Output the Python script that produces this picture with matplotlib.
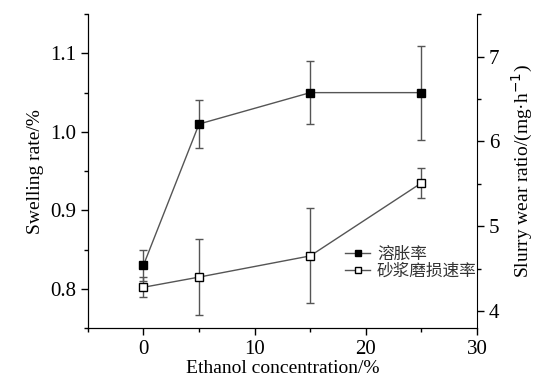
import matplotlib
matplotlib.use("Agg")
import matplotlib.pyplot as plt
from matplotlib.ticker import MultipleLocator

plt.rcParams['font.family'] = ['Liberation Serif', 'Noto Sans CJK SC']

ethanol = [0, 5, 15, 25]  # ethanol concentration %
swelling = [0.83, 1.01, 1.05, 1.05]
swelling_err = [0.02, 0.03, 0.04, 0.06]
wear = [4.28, 4.40, 4.65, 5.51]
wear_err = [0.12, 0.45, 0.56, 0.18]
labels = ["溶胀率", "砂浆磨损速率"]

fig = plt.figure(figsize=(5.39, 3.79), dpi=100)
ax = fig.add_axes([0.163, 0.1346, 0.722, 0.828])
ax2 = ax.twinx()

h1 = ax.errorbar(ethanol, swelling, yerr=swelling_err, color="#555555", lw=1,
                 marker="s", ms=6, mfc="black", mec="black", capsize=3,
                 elinewidth=1, label=labels[0])
h2 = ax2.errorbar(ethanol, wear, yerr=wear_err, color="#555555", lw=1,
                  marker="s", ms=6, mfc="white", mec="black", capsize=3,
                  elinewidth=1, label=labels[1])

ax.set_xlim(-5, 30)
ax.set_ylim(0.75, 1.15)
ax2.set_ylim(3.8, 7.5)
ax.xaxis.set_major_locator(MultipleLocator(10))
ax.xaxis.set_minor_locator(MultipleLocator(5))
ax.yaxis.set_major_locator(MultipleLocator(0.1))
ax.yaxis.set_minor_locator(MultipleLocator(0.05))
ax2.yaxis.set_major_locator(MultipleLocator(1))
ax2.yaxis.set_minor_locator(MultipleLocator(0.5))

for a in (ax, ax2):
    a.spines['top'].set_visible(False)
    a.tick_params(which='both', direction='out', labelsize=15, width=1)
    a.tick_params(which='major', length=5)
    a.tick_params(which='minor', length=3)
ax.spines['right'].set_visible(False)

ax.set_xlabel("Ethanol concentration/%", fontsize=14, labelpad=1)
ax.set_ylabel("Swelling rate/%", fontsize=14)
ax2.set_ylabel("Slurry wear ratio/(mg·h$^{-1}$)", fontsize=14, labelpad=8)
ax.set_yticklabels(["%.1f" % v for v in ax.get_yticks()])

# only line+marker in legend, no error bar glyph
leg = ax.legend([h1[0], h2[0]], labels, loc="center left", bbox_to_anchor=(0.64, 0.207),
                frameon=False, fontsize=12, handlelength=1.5, handletextpad=0.4,
                labelspacing=0.05, borderpad=0, markerscale=0.7)
for t in leg.get_texts():
    t.set_color("#333333")

fig.savefig("out.png", dpi=100)
